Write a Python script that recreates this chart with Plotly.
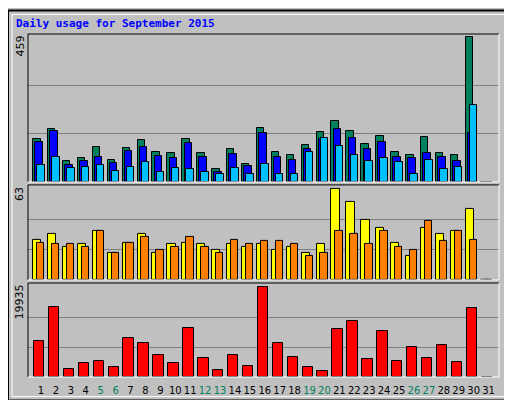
import plotly.graph_objects as go
from plotly.subplots import make_subplots

days = list(range(1, 32))
weekend = [5, 6, 12, 13, 19, 20, 26, 27]

hits = [135, 169, 66, 76, 110, 70, 107, 132, 94, 91, 135, 91, 42, 104, 57, 172,
        94, 85, 116, 157, 194, 163, 119, 147, 94, 85, 141, 91, 85, 459, 0]
files = [126, 160, 54, 66, 79, 60, 98, 110, 82, 76, 123, 79, 32, 88, 51, 154,
         79, 70, 104, 135, 169, 138, 104, 126, 79, 76, 91, 79, 66, 154, 0]
pages = [54, 79, 45, 48, 54, 35, 48, 63, 32, 45, 42, 32, 26, 45, 26, 57,
         26, 26, 94, 138, 113, 85, 66, 76, 63, 26, 70, 42, 48, 244, 0]
visits = [28, 32, 23, 25, 34, 19, 26, 32, 19, 25, 26, 25, 21, 25, 23, 25,
          21, 23, 19, 25, 63, 54, 42, 36, 26, 17, 36, 32, 34, 49, 0]
sites = [26, 25, 25, 23, 34, 19, 26, 30, 21, 23, 30, 23, 19, 28, 25, 27,
         27, 25, 17, 19, 34, 32, 25, 34, 23, 21, 41, 27, 34, 28, 0]
kbytes = [7930, 15570, 1820, 3130, 3565, 2255, 8585, 7494, 4875, 3130, 10986,
          4220, 1600, 4875, 2474, 19935, 7494, 4438, 2255, 1382, 10550, 12514,
          4000, 10113, 3565, 6621, 4220, 7057, 3347, 15351, 0]

BG = "#C0C0C0"
fig = make_subplots(rows=3, cols=1, shared_xaxes=True, vertical_spacing=0)

def bars(y, color, offset, width, row):
    fig.add_trace(go.Bar(x=days, y=y, offset=offset, width=width,
                         marker=dict(color=color, line=dict(color="black", width=1)),
                         showlegend=False), row=row, col=1)

bars(hits, "#00805C", -0.53, 0.5, 1)
bars(files, "#0000FF", -0.38, 0.5, 1)
bars(pages, "#00C0FF", -0.25, 0.5, 1)
bars(visits, "#FFFF00", -0.53, 0.55, 2)
bars(sites, "#FF8000", -0.27, 0.5, 2)
bars(kbytes, "#FF0000", -0.47, 0.7, 3)

ticktext = [f'<span style="color:#00805C">{d}</span>' if d in weekend else str(d) for d in days]

doms = [(0.5686, 1.0), (0.283, 0.56), (0.0, 0.274)]
maxes = [459, 63, 19935]
tops = [469, 66, 20870]
for i in range(3):
    fig.update_yaxes(row=i + 1, col=1, domain=doms[i], range=[0, tops[i]],
                     tickvals=[maxes[i] / 3, maxes[i] * 2 / 3], showticklabels=False,
                     gridcolor="#808080", gridwidth=1, zeroline=False,
                     showline=False, ticks="")
    fig.update_xaxes(row=i + 1, col=1, range=[0.13, 31.7], showgrid=False,
                     zeroline=False, ticks="")
fig.update_xaxes(row=3, col=1, tickvals=days, ticktext=ticktext, showticklabels=True,
                 tickangle=0, ticklabelstandoff=6,
                 tickfont=dict(family="DejaVu Sans", size=10, color="black"))

shapes = []
# outer 3D frame
shapes.append(dict(type="rect", xref="paper", yref="paper", x0=-20/471, x1=(512-20)/471,
                   y0=-24/350, y1=(400-26)/350, line=dict(color="black", width=2)))
shapes.append(dict(type="rect", xref="paper", yref="paper", x0=-16/471, x1=(508-20)/471,
                   y0=-20/350, y1=(396-26)/350, line=dict(color="white", width=1)))
for d0, d1 in doms:
    shapes.append(dict(type="path", xref="paper", yref="paper",
                       path=f"M 0 {d0} L 0 {d1} L 1 {d1}", line=dict(color="black", width=1)))
    shapes.append(dict(type="path", xref="paper", yref="paper",
                       path=f"M 0 {d0} L 1 {d0} L 1 {d1}", line=dict(color="white", width=1)))

anns = [dict(text="<b>Daily usage for September 2015</b>", x=-14/471, y=(376-7)/350,
             xref="paper", yref="paper", xanchor="left", yanchor="top", showarrow=False,
             font=dict(family="DejaVu Sans Mono", size=11, color="#0000FF"))]
for (d0, d1), m in zip(doms, maxes):
    anns.append(dict(text=str(m), x=-8/471, y=d1, xref="paper", yref="paper", textangle=-90,
                     xanchor="center", yanchor="top", showarrow=False,
                     font=dict(family="DejaVu Sans", size=11, color="black")))
right = [
    '<span style="color:#00C0FF">Pages</span> / <span style="color:#0000FF">Files</span> / <span style="color:#00805C">Hits</span>',
    '<span style="color:#FF8000">Sites</span> / <span style="color:#FFFF00">Visits</span>',
    '<span style="color:#FF0000">KBytes</span>',
]
for (d0, d1), t in zip(doms, right):
    anns.append(dict(text=t, x=1 + 10/471, y=d0, xref="paper", yref="paper", textangle=-90,
                     xanchor="center", yanchor="bottom", showarrow=False,
                     font=dict(family="DejaVu Sans Mono", size=11, color="black")))

fig.update_layout(width=512, height=400, margin=dict(l=20, r=21, t=26, b=24),
                  paper_bgcolor=BG, plot_bgcolor=BG, barmode="overlay",
                  bargap=0, shapes=shapes, annotations=anns)

fig.write_html("out.html")
